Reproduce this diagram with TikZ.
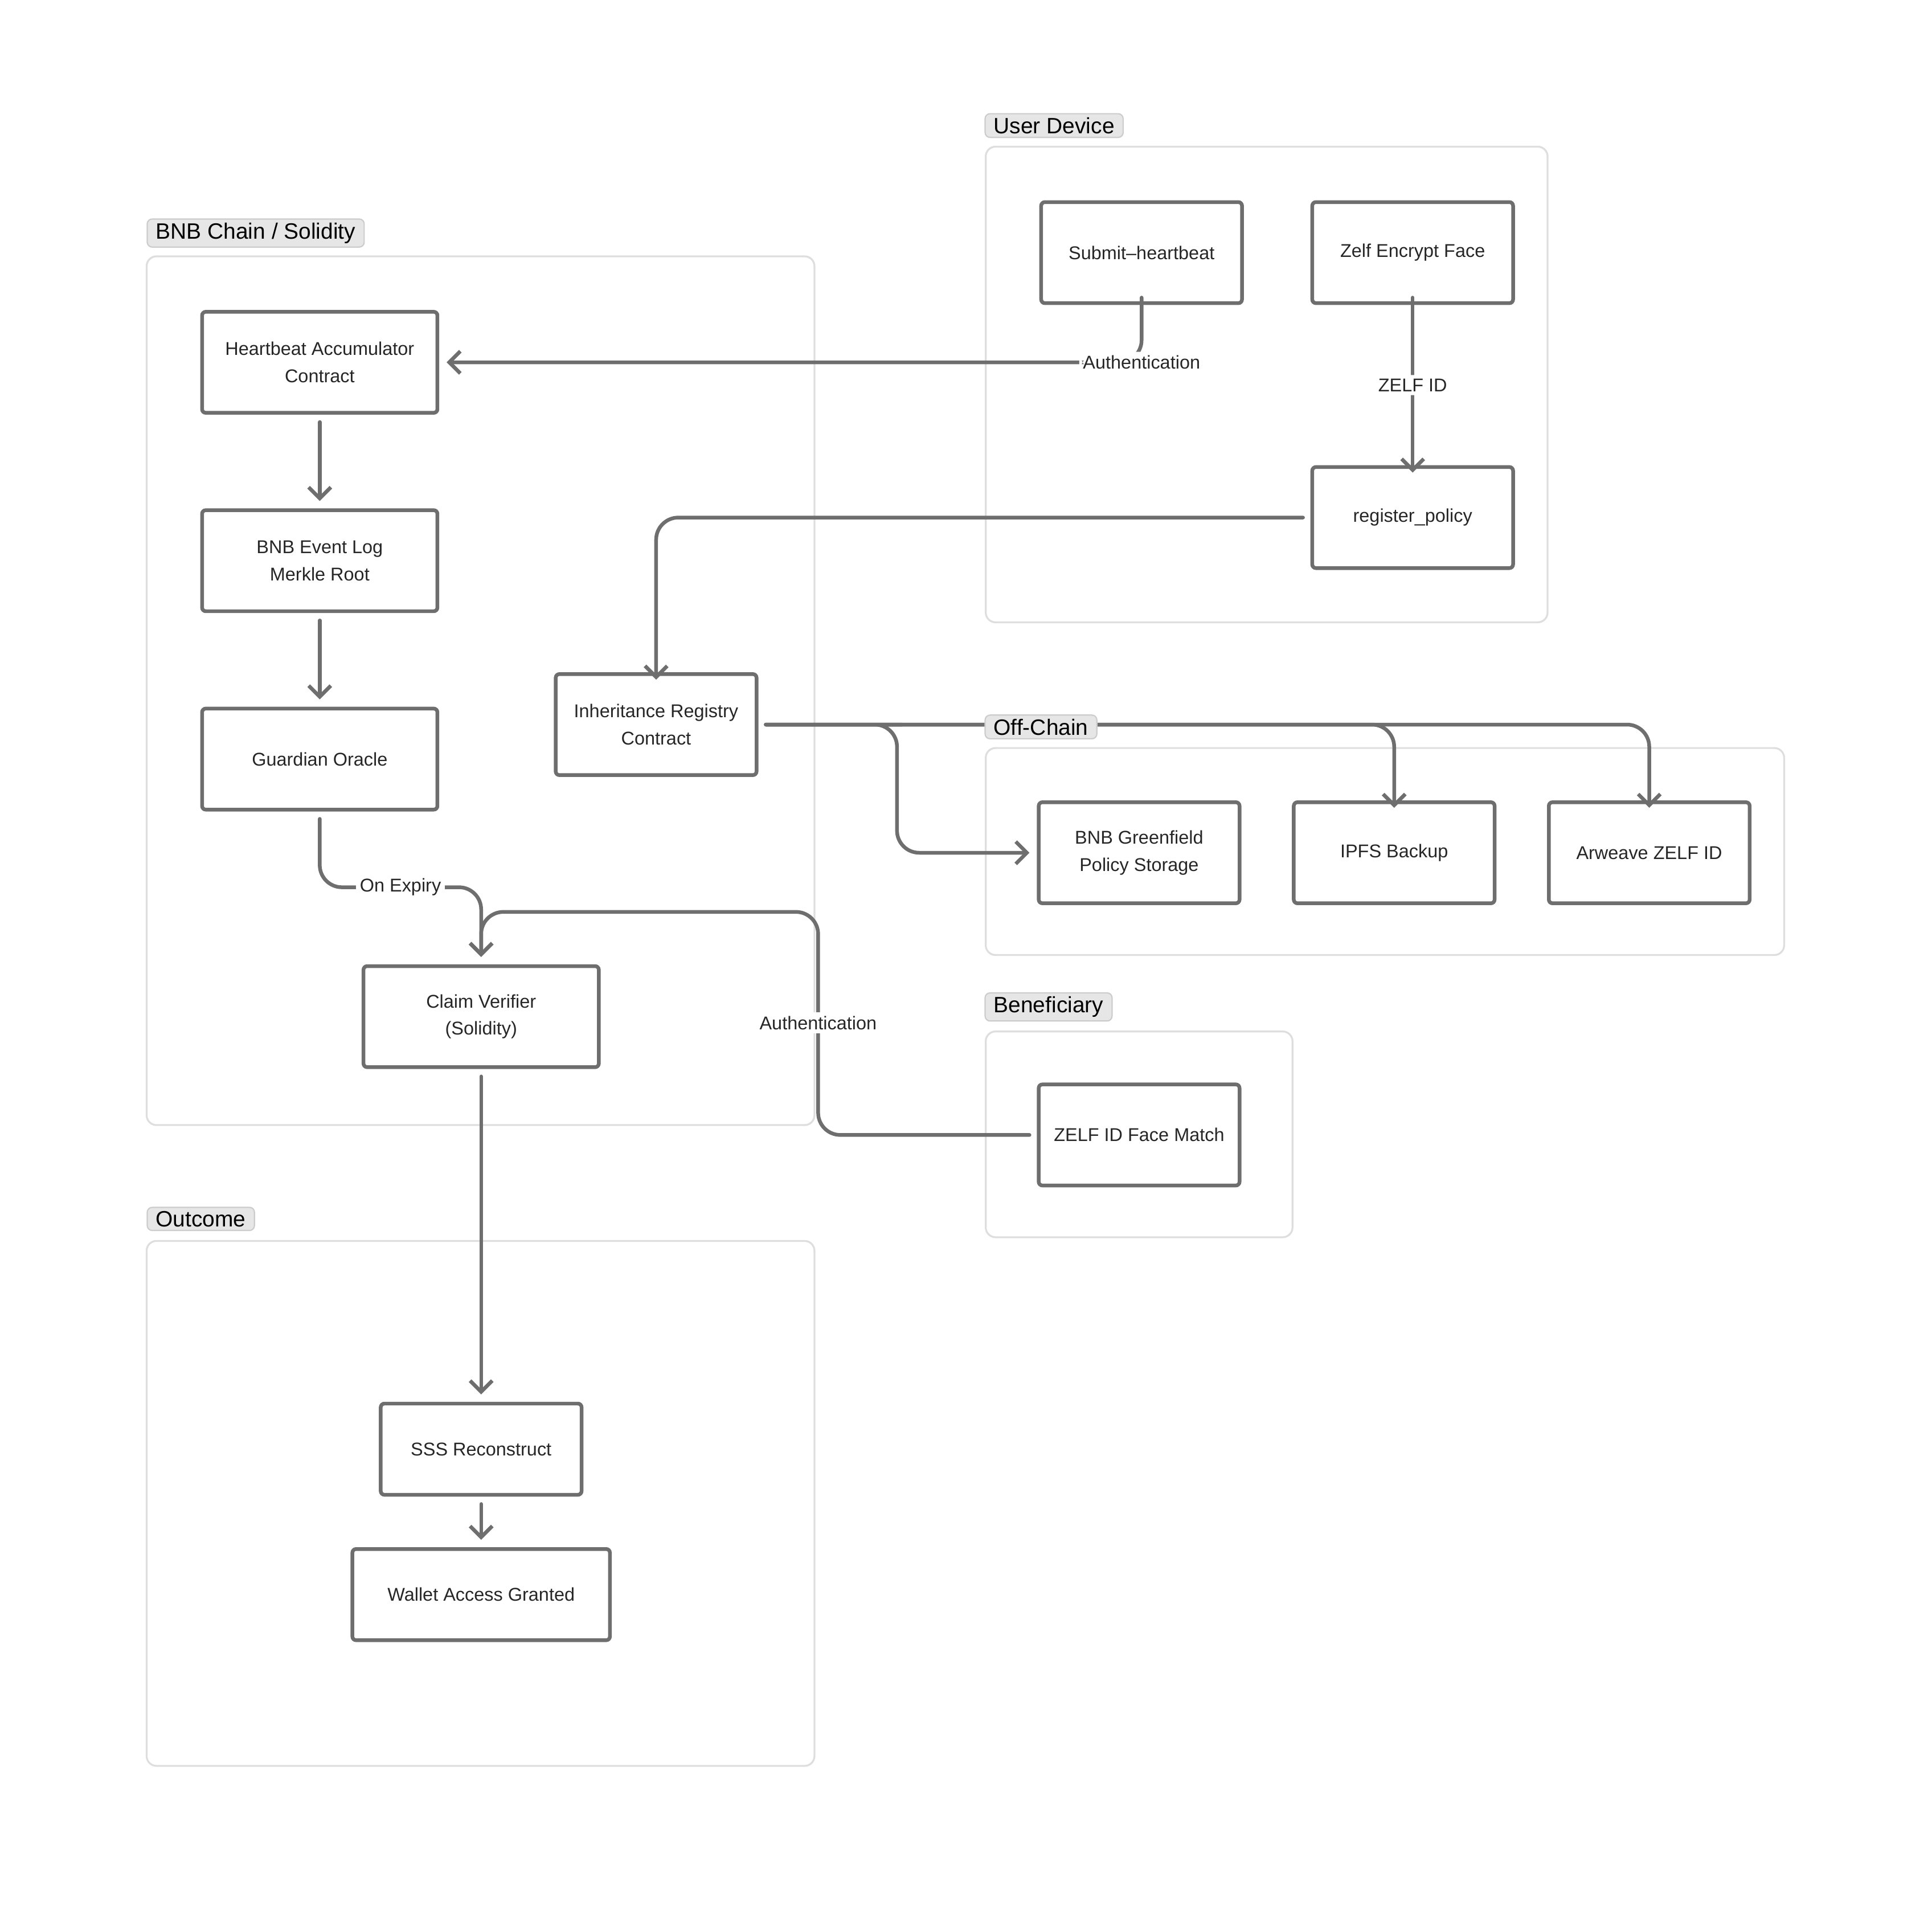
\documentclass[tikz,border=0pt]{standalone}
\usepackage{fontspec}
\setmainfont{Liberation Sans}
\usetikzlibrary{arrows.meta}
\definecolor{ln}{HTML}{6E6E6E}
\definecolor{grp}{HTML}{DEDEDE}
\definecolor{tab}{HTML}{E6E6E6}
\definecolor{tabd}{HTML}{CCCCCC}
\tikzset{
  box/.style={draw=ln,line width=3pt,rounded corners=3pt,fill=white,align=center,inner sep=0pt,font=\fontsize{15}{22}\selectfont,text=black!85},
  grpbox/.style={draw=grp,line width=1.5pt,rounded corners=8pt},
  tabl/.style={draw=tabd,fill=tab,line width=1pt,rounded corners=4pt,font=\fontsize{18}{20}\selectfont,inner xsep=7pt,inner ysep=3pt,anchor=south west,text=black},
  arr/.style={draw=ln,line width=3pt,line cap=round,rounded corners=18pt,-{Straight Barb[length=9pt,width=18pt,line width=3pt]}},
  ln2/.style={draw=ln,line width=3pt,line cap=round,rounded corners=18pt},
  elab/.style={fill=white,inner sep=3pt,font=\fontsize{15}{18}\selectfont,text=black!85}
}
\begin{document}
\begin{tikzpicture}[x=1pt,y=-1pt]
\useasboundingbox (0,0) rectangle (1568,1553);
% groups
\draw[grpbox] (800,119) rectangle (1256,505);
\draw[grpbox] (119,208) rectangle (661,913);
\draw[grpbox] (800,607) rectangle (1448,775);
\draw[grpbox] (800,837) rectangle (1049,1004);
\draw[grpbox] (119,1007) rectangle (661,1433);
% nodes
\node[box,minimum width=163,minimum height=82] (sub) at (926.5,205) {Submit–heartbeat};
\node[box,minimum width=163,minimum height=82] (zelf) at (1146.5,205) {Zelf Encrypt Face};
\node[box,minimum width=163,minimum height=82] (reg) at (1146.5,420) {register\_policy};
\node[box,minimum width=191,minimum height=82] (hb) at (259.5,294) {Heartbeat Accumulator\\Contract};
\node[box,minimum width=191,minimum height=82] (ev) at (259.5,455) {BNB Event Log\\Merkle Root};
\node[box,minimum width=191,minimum height=82] (go) at (259.5,616) {Guardian Oracle};
\node[box,minimum width=163,minimum height=82] (ir) at (532.5,588) {Inheritance Registry\\Contract};
\node[box,minimum width=163,minimum height=82] (gf) at (924.5,692) {BNB Greenfield\\Policy Storage};
\node[box,minimum width=163,minimum height=82] (ipfs) at (1131.5,692) {IPFS Backup};
\node[box,minimum width=163,minimum height=82] (arw) at (1338.5,692) {Arweave ZELF ID};
\node[box,minimum width=191,minimum height=82] (cv) at (390.5,825) {Claim Verifier\\(Solidity)};
\node[box,minimum width=163,minimum height=82] (fm) at (924.5,921) {ZELF ID Face Match};
\node[box,minimum width=163,minimum height=74] (sss) at (390.5,1176) {SSS Reconstruct};
\node[box,minimum width=209,minimum height=74] (wal) at (390.5,1294) {Wallet Access Granted};
% edges
\draw[arr] ([yshift=6]sub.south) |- ([xshift=6]hb.east) node[elab,pos=0.5] {Authentication};
\draw[arr] ([yshift=6]zelf.south) -- ([yshift=-6]reg.north) node[elab,midway] {ZELF ID};
\draw[arr] ([xshift=-6]reg.west) -| ([yshift=-6]ir.north);
\draw[arr] ([xshift=6]ir.east) -- (714,588) -- (728,588) |- ([xshift=-6]gf.west);
\draw[arr] ([xshift=6]ir.east) -| ([yshift=-6]ipfs.north);
\draw[arr] ([xshift=6]ir.east) -| ([yshift=-6]arw.north);
\draw[arr] ([yshift=-6]hb.south) -- ([yshift=6]ev.north);
\draw[arr] ([yshift=-6]ev.south) -- ([yshift=6]go.north);
\draw[arr] ([yshift=-6]go.south) |- (325,720) -| ([yshift=6]cv.north);
\node[elab] at (325,720) {On Expiry};
\draw[arr] ([xshift=-6]fm.west) -| (664,740) -| ([yshift=6]cv.north);
\node[elab] at (664,830) {Authentication};
\draw[arr] ([yshift=-6]cv.south) -- ([yshift=6]sss.north);
\draw[arr] ([yshift=-6]sss.south) -- ([yshift=6]wal.north);
% tabs
\node[tabl] at (799,112) {User Device};
\node[tabl] at (119,201) {BNB Chain / Solidity};
\node[tabl] at (799,600) {Off-Chain};
\node[tabl] at (799,829) {Beneficiary};
\node[tabl] at (119,999) {Outcome};
\end{tikzpicture}
\end{document}
